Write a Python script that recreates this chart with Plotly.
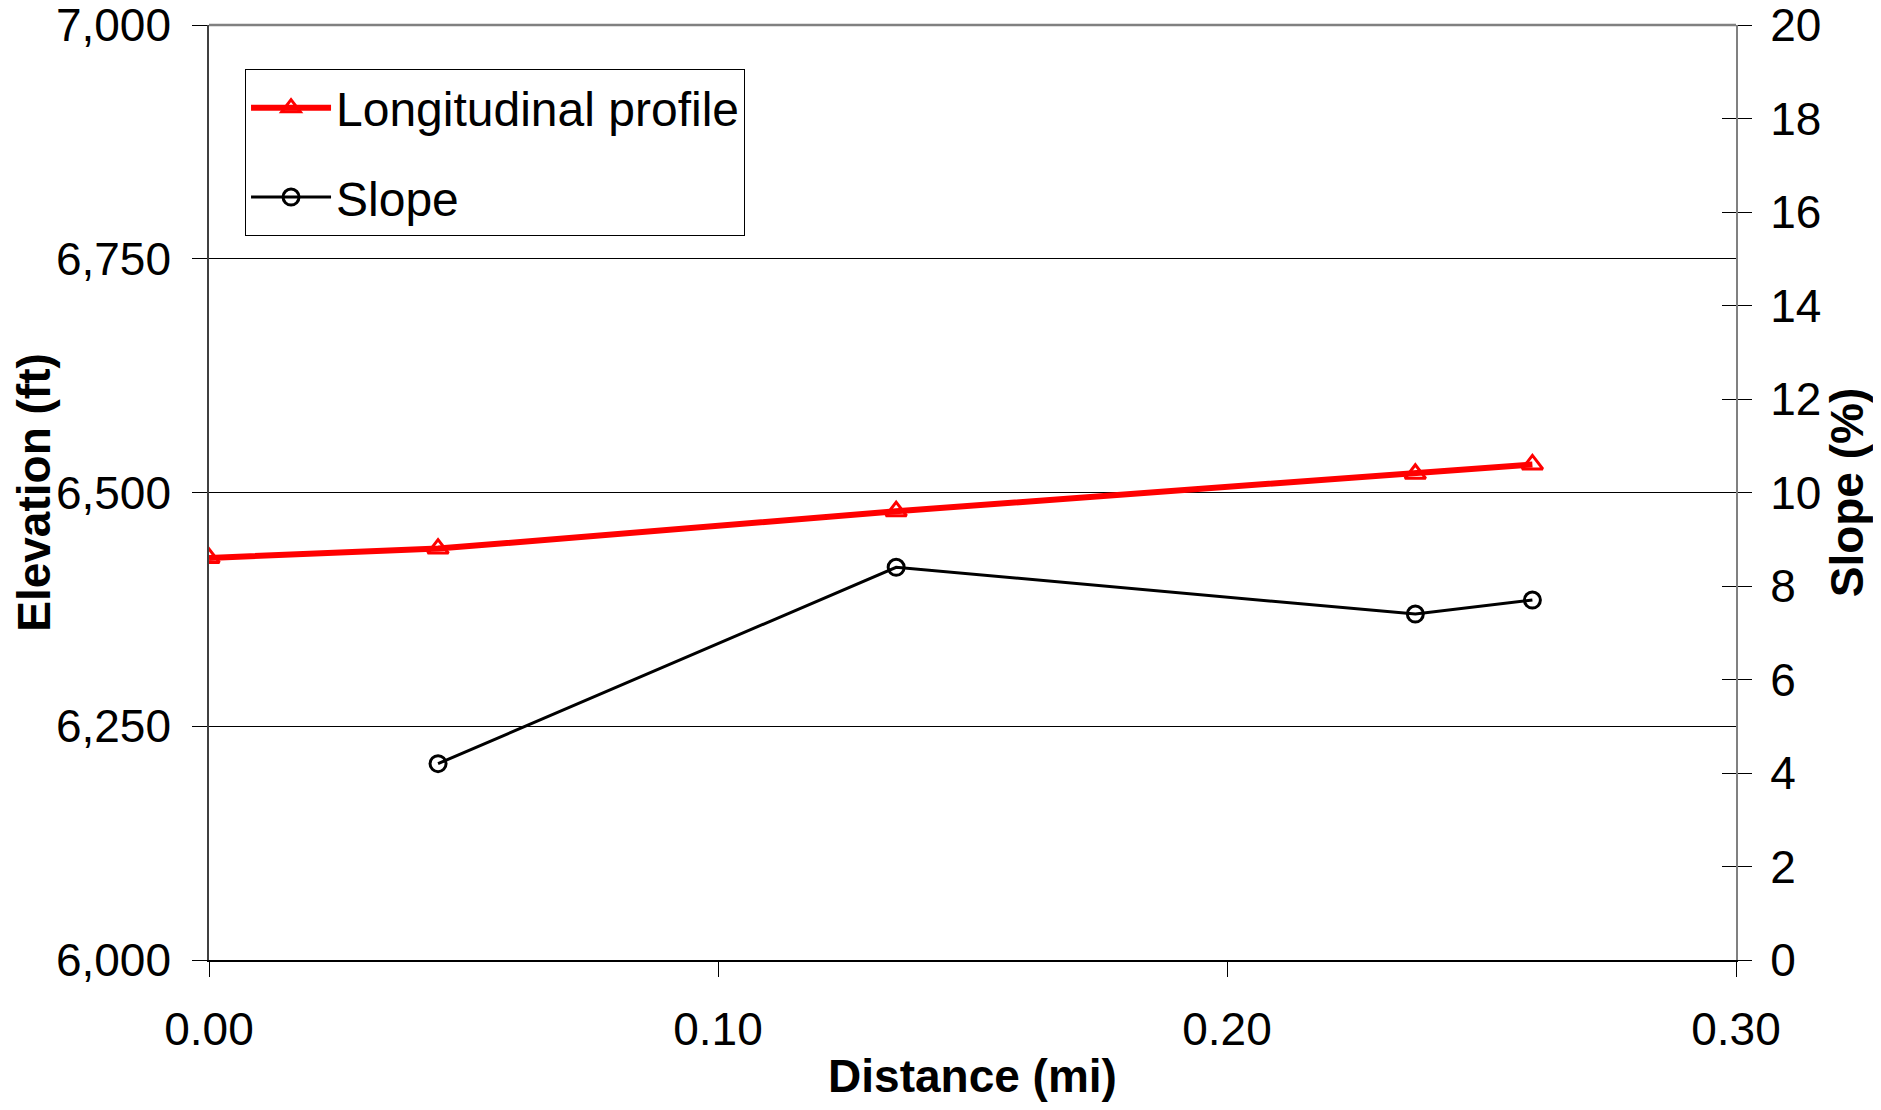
import plotly.graph_objects as go

# Data
distance_mi = [0.0, 0.045, 0.135, 0.237, 0.260]
elevation_ft = [6430, 6440, 6480, 6520, 6530]
slope_pct = [None, 4.2, 8.4, 7.4, 7.7]

x_ticks = [0.0, 0.1, 0.2, 0.3]
y_ticks = [6000, 6250, 6500, 6750, 7000]
y2_ticks = list(range(0, 21, 2))

FONT = "Arial, Liberation Sans, sans-serif"
FS = 46
LFS = 48

fig = go.Figure()

fig.add_trace(go.Scatter(
    x=distance_mi, y=elevation_ft, name="Longitudinal profile",
    mode="lines+markers", legendgroup="a",
    line=dict(color="#ff0000", width=6),
    marker=dict(symbol="triangle-up-open", size=18, color="#ff0000",
                line=dict(color="#ff0000", width=3)),
    yaxis="y",
))
fig.add_trace(go.Scatter(
    x=distance_mi, y=slope_pct, name="Slope",
    mode="lines+markers", legendgroup="b",
    line=dict(color="#000000", width=3),
    marker=dict(symbol="circle-open", size=16, color="#000000",
                line=dict(color="#000000", width=3)),
    yaxis="y2",
))
# invisible helper trace to carry the inner tick marks of the right axis
fig.add_trace(go.Scatter(
    x=[distance_mi[0]], y=[y2_ticks[0]], mode="markers", showlegend=False,
    marker=dict(opacity=0), hoverinfo="skip", yaxis="y3",
))

fig.update_layout(
    width=1865, height=1094,
    margin=dict(l=201, r=137, t=17, b=142, autoexpand=False),
    paper_bgcolor="white", plot_bgcolor="white",
    font=dict(family=FONT, size=FS, color="black"),
    showlegend=True,
    legend=dict(
        x=0.0236, y=0.953, xanchor="left", yanchor="top",
        bgcolor="white", bordercolor="#000000", borderwidth=1,
        font=dict(family=FONT, size=LFS, color="black"),
        tracegroupgap=24, itemwidth=80,
    ),
    xaxis=dict(
        range=[0, 0.3], tickvals=x_ticks, tickformat=".2f",
        showgrid=False, zeroline=False, automargin=False,
        showline=True, linecolor="#000000", linewidth=1.5,
        ticks="outside", ticklen=15, tickcolor="#000000", tickwidth=1,
        ticklabelstandoff=13, ticklabeloverflow="allow",
        tickfont=dict(family=FONT, size=FS),
        title=dict(text="<b>Distance (mi)</b>", font=dict(family=FONT, size=FS), standoff=12),
    ),
    yaxis=dict(
        range=[6000, 7000], tickvals=y_ticks, tickformat=",",
        showgrid=True, gridcolor="#000000", gridwidth=1, zeroline=False,
        automargin=False,
        showline=True, linecolor="#404040", linewidth=1.5,
        ticks="outside", ticklen=15, tickcolor="#000000", tickwidth=1,
        ticklabelstandoff=12, ticklabeloverflow="allow",
        tickfont=dict(family=FONT, size=FS),
        title=dict(text="<b>Elevation (ft)</b>", font=dict(family=FONT, size=FS), standoff=0),
    ),
    yaxis2=dict(
        range=[0, 20], tickvals=y2_ticks, overlaying="y", side="right",
        showgrid=False, zeroline=False, automargin=False,
        showline=True, linecolor="#808080", linewidth=2,
        ticks="outside", ticklen=14, tickcolor="#000000", tickwidth=1,
        ticklabelstandoff=9, ticklabeloverflow="allow",
        tickfont=dict(family=FONT, size=FS),
        title=dict(text="<b>Slope (%)</b>", font=dict(family=FONT, size=FS), standoff=4),
    ),
    yaxis3=dict(
        range=[0, 20], tickvals=y2_ticks, overlaying="y", side="right",
        showgrid=False, zeroline=False, showline=False, automargin=False,
        ticks="inside", ticklen=14, tickcolor="#000000", tickwidth=1,
        showticklabels=False,
    ),
    shapes=[
        dict(type="line", xref="paper", yref="paper", x0=0, x1=1, y0=1, y1=1,
             line=dict(color="#808080", width=2.5), layer="above"),
    ],
)

fig.write_html("out.html")
